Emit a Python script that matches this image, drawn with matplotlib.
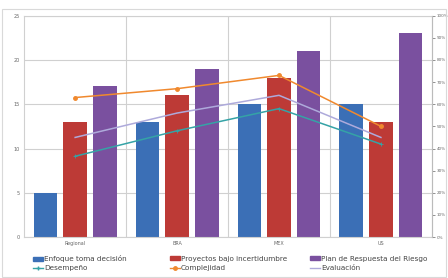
import numpy as np
import matplotlib.pyplot as plt
from matplotlib.patches import Rectangle
from matplotlib.lines import Line2D

categories = ['Regional', 'BRA', 'MEX', 'US']

# bars (left axis)
enfoque = [5, 13, 15, 15]
proyectos = [13, 16, 18, 13]
plan = [17, 19, 21, 23]

# lines (right axis, %)
desempeno = [36.5, 48, 58, 42]
complejidad = [63, 67, 73, 50]
evaluacion = [45, 56, 64, 45]

c_blue = '#3b6fb6'
c_red = '#bd3a36'
c_purple = '#7a509f'
c_teal = '#35a3a6'
c_orange = '#f0892e'
c_lav = '#aeaadb'

plt.rcParams['font.family'] = 'DejaVu Sans'

fig = plt.figure(figsize=(4.48, 2.78), dpi=100)
fig.patches.append(Rectangle((0.004, 0.004), 0.992, 0.963, transform=fig.transFigure,
                             fill=False, edgecolor='#d9d9d9', linewidth=0.8))
ax = fig.add_axes([0.054, 0.147, 0.91, 0.797])

x = np.arange(len(categories))
w = 0.233
off = 0.29
ax.bar(x - off, enfoque, w, color=c_blue, zorder=2)
ax.bar(x, proyectos, w, color=c_red, zorder=2)
ax.bar(x + off, plan, w, color=c_purple, zorder=2)

ax.set_xlim(-0.5, 3.5)
ax.set_ylim(0, 25)
ax.set_yticks([0, 5, 10, 15, 20, 25])
ax.set_xticks(x)
ax.set_xticklabels(categories)
ax.grid(axis='y', color='#d0d0d0', linewidth=0.8, zorder=0)
for b in [0.5, 1.5, 2.5]:
    ax.axvline(b, color='#d0d0d0', linewidth=0.8, zorder=0)
ax.tick_params(axis='both', labelsize=3.5, colors='#666666', length=0, pad=3)
for s in ['top', 'left', 'bottom', 'right']:
    ax.spines[s].set_color('#d0d0d0')
    ax.spines[s].set_linewidth(0.8)

ax2 = ax.twinx()
ax2.set_ylim(0, 100)
ax2.set_yticks(np.arange(0, 101, 10))
ax2.set_yticklabels([f'{v}%' for v in range(0, 101, 10)])
ax2.tick_params(axis='y', labelsize=3, colors='#666666', length=2, pad=1.5, width=0.5)
ax2.spines['right'].set_color('#bbbbbb')
for s in ['top', 'left', 'bottom']:
    ax2.spines[s].set_visible(False)

ax2.plot(x, desempeno, color=c_teal, lw=1.1, marker='+', ms=2.5, mew=0.6)
ax2.plot(x, complejidad, color=c_orange, lw=1.1, marker='o', ms=2.5)
ax2.plot(x, evaluacion, color=c_lav, lw=1.1)

groups = [
    ([Rectangle((0, 0), 1, 1, color=c_blue),
      Line2D([], [], color=c_teal, lw=1, marker='+', ms=3)],
     ['Enfoque toma decisión', 'Desempeño'], 0.074),
    ([Rectangle((0, 0), 1, 1, color=c_red),
      Line2D([], [], color=c_orange, lw=1, marker='o', ms=2.5)],
     ['Proyectos bajo incertidumbre', 'Complejidad'], 0.379),
    ([Rectangle((0, 0), 1, 1, color=c_purple),
      Line2D([], [], color=c_lav, lw=1)],
     ['Plan de Respuesta del Riesgo', 'Evaluación'], 0.692),
]
for hs, ls, xpos in groups:
    fig.legend(hs, ls, loc='center left', bbox_to_anchor=(xpos, 0.053),
               frameon=False, fontsize=5.2, handlelength=1.4, handleheight=0.5,
               handletextpad=0.1, labelspacing=0.45, borderpad=0,
               borderaxespad=0, labelcolor='#444444')

fig.savefig('out.png', dpi=100)
